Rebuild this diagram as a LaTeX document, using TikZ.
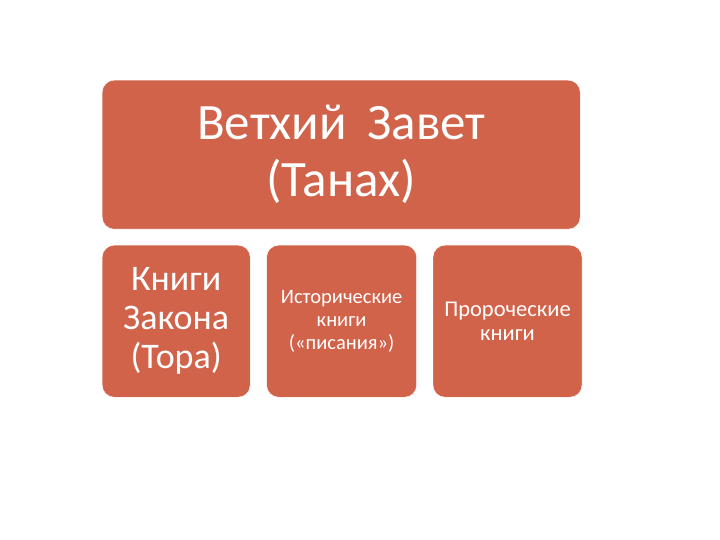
\documentclass[tikz,border=0pt]{standalone}
\usepackage{fontspec}
\setmainfont{Carlito}
\usetikzlibrary{positioning}
\definecolor{brick}{HTML}{D1634A}
\tikzset{box/.style={draw=white,fill=brick,rounded corners=12pt,text=white,align=center,inner sep=0pt}}
\begin{document}
\begin{tikzpicture}[x=1pt,y=-1pt]
\useasboundingbox (0,0) rectangle (720,540);
\node[box,minimum width=478pt,minimum height=149pt,anchor=north west,
  font=\fontsize{51}{57}\selectfont] (tanakh) at (102,80)
  {Ветхий\hspace{0.4em}Завет\\(Танах)};
\node[box,minimum width=148pt,minimum height=152pt,anchor=north west,
  font=\fontsize{36}{39}\selectfont] (tora) at (102,245)
  {Книги\\Закона\\(Тора)};
\node[box,minimum width=150pt,minimum height=152pt,right=16pt of tora,
  font=\fontsize{20.5}{23}\selectfont] (hist)
  {Исторические\\книги\\(«писания»)};
\node[box,minimum width=149pt,minimum height=152pt,right=16pt of hist,
  font=\fontsize{22.5}{24}\selectfont] (proph)
  {Пророческие\\книги};
\end{tikzpicture}
\end{document}
